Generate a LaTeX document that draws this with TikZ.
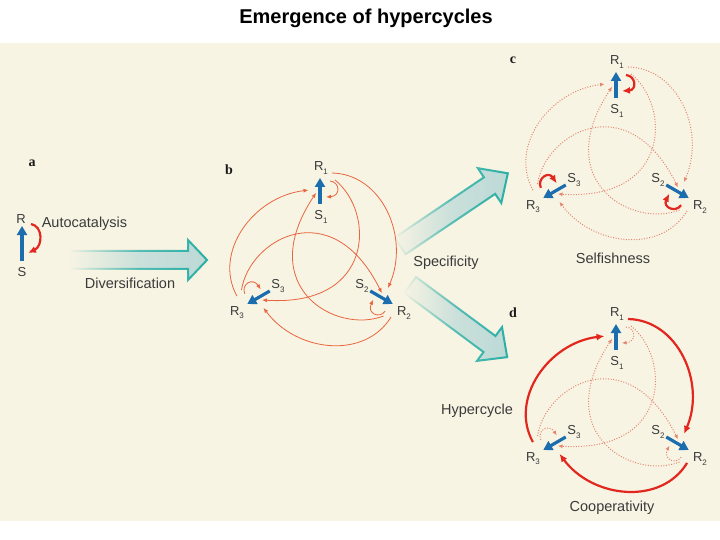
\documentclass[tikz,border=0pt]{standalone}
\usepackage{fontspec}
\setmainfont{Liberation Sans}
\newfontfamily\panelfont{Liberation Serif}
\usetikzlibrary{arrows.meta,fadings}
\definecolor{cream}{HTML}{F8F4E4}
\definecolor{myblue}{HTML}{1B6DAE}
\definecolor{myorange}{HTML}{E8663F}
\definecolor{mydot}{HTML}{E3866E}
\definecolor{myred}{HTML}{E2281E}
\definecolor{tealline}{HTML}{2AAFA6}
\definecolor{tealfill}{HTML}{BCDAD7}
\definecolor{txt}{HTML}{3A3A3A}
\tikzfading[name=arrowfade, left color=transparent!100, right color=transparent!0, middle color=transparent!25]
\newcommand{\rsub}[2]{#1\raisebox{-0.45ex}{\fontsize{8}{8}\selectfont #2}}
\newcommand{\drawnet}[5]{%
  \begin{scope}[shift={#2}]
    \foreach \k/\ang in {1/0,2/-120,3/-240}{
      \begin{scope}[rotate=\ang]
        \coordinate (#1t\k) at (0,-84);
        \coordinate (#1b\k) at (0,-58);
        \coordinate (#1ls\k) at (10,-81);
        \coordinate (#1le\k) at (6,-65);
        \coordinate (#1os\k) at (12,-89);
        \coordinate (#1oe\k) at (68,26);
        \coordinate (#1is\k) at (15,-82);
        \coordinate (#1ie\k) at (-58,38);
        \draw[#3] (#1ls\k) .. controls (20,-80) and (21,-66) .. (#1le\k);
        \draw[#4] (#1os\k) .. controls (62,-88) and (90,-25) .. (#1oe\k);
        \draw[#5] (#1is\k) .. controls (55,-50) and (55,45) .. (#1ie\k);
        \draw[bluearr] (#1b\k) -- (#1t\k);
      \end{scope}}
    \node[lbl] (#1R1) at (1,-94) {\rsub{R}{1}};
    \node[lbl] (#1S1) at (1,-45) {\rsub{S}{1}};
    \node[lbl] (#1R2) at (84,51) {\rsub{R}{2}};
    \node[lbl] (#1S2) at (42,24) {\rsub{S}{2}};
    \node[lbl] (#1R3) at (-83,51) {\rsub{R}{3}};
    \node[lbl] (#1S3) at (-42,24) {\rsub{S}{3}};
  \end{scope}}
\tikzset{
  lbl/.style={font=\fontsize{13}{15}\selectfont, text=txt, inner sep=0pt},
  captxt/.style={font=\fontsize{14.5}{17}\selectfont, text=txt, inner sep=0pt},
  panel/.style={font=\fontsize{14}{16}\selectfont\panelfont\bfseries, text=black!90, inner sep=0pt},
  bluearr/.style={draw=myblue, line width=3.2pt, -{Triangle[length=9pt,width=10pt]}},
  thinarc/.style={draw=myorange, line width=0.8pt, -{Latex[length=5pt,width=4pt]}},
  dotarc/.style={draw=mydot, line width=1pt, dash pattern=on 1pt off 1.6pt, -{Latex[length=4.5pt,width=4pt]}},
  thickarc/.style={draw=myred, line width=2.2pt, -{Latex[length=8pt,width=7pt]}},
  bigarrow/.style={draw=tealline, line width=2pt, fill=tealfill, path fading=arrowfade},
}
\begin{document}
\begin{tikzpicture}[x=1pt,y=-1pt]
\useasboundingbox (0,0) rectangle (720,540);
\fill[white] (0,0) rectangle (720,540);
\fill[cream] (0,43) rectangle (720,521);
\node[font=\fontsize{20}{24}\selectfont\bfseries, inner sep=0pt] (title) at (366,18) {Emergence of hypercycles};
% panel a
\node[panel] (pa) at (32,163) {a};
\node[lbl] (aR) at (21,219) {R};
\node[lbl] (aS) at (22,272) {S};
\coordinate (aT) at (22,226);
\coordinate (aB) at (22,261);
\draw[bluearr] (aB) -- (aT);
\coordinate (aLs) at (31,224);
\coordinate (aLe) at (28,253);
\draw[thickarc] (aLs) .. controls (43,226) and (43,246) .. (aLe);
\node[captxt] (autocat) at (84.5,224) {Autocatalysis};
\node[captxt] (divers) at (130,283) {Diversification};
% big arrows
\path[bigarrow] (70,251) -- (188,251) -- (188,240) -- (207,260) -- (188,280) -- (188,269) -- (70,269) -- cycle;
\begin{scope}[shift={(400,246)}, rotate=34]
  \path[bigarrow] (0,-10) -- (108,-10) -- (108,-21) -- (130,0) -- (108,21) -- (108,10) -- (0,10) -- cycle;
\end{scope}
\begin{scope}[shift={(410,285)}, rotate=-36.6]
  \path[bigarrow] (0,-10) -- (99,-10) -- (99,-21) -- (121,0) -- (99,21) -- (99,10) -- (0,10) -- cycle;
\end{scope}
\node[captxt] (spec) at (446,263) {Specificity};
% panel b
\node[panel] (pb) at (229,170) {b};
\drawnet{b}{(320,262)}{thinarc}{thinarc}{thinarc}
% panel c
\node[panel] (pc) at (513,60) {c};
\drawnet{c}{(616,156)}{thickarc}{dotarc}{dotarc}
\node[captxt] (selfish) at (613,258) {Selfishness};
% panel d
\node[panel] (pd) at (513,313) {d};
\drawnet{d}{(616,408)}{dotarc}{thickarc}{dotarc}
\node[captxt] (hyper) at (477,411) {Hypercycle};
\node[captxt] (coop) at (612,508) {Cooperativity};
\end{tikzpicture}
\end{document}
